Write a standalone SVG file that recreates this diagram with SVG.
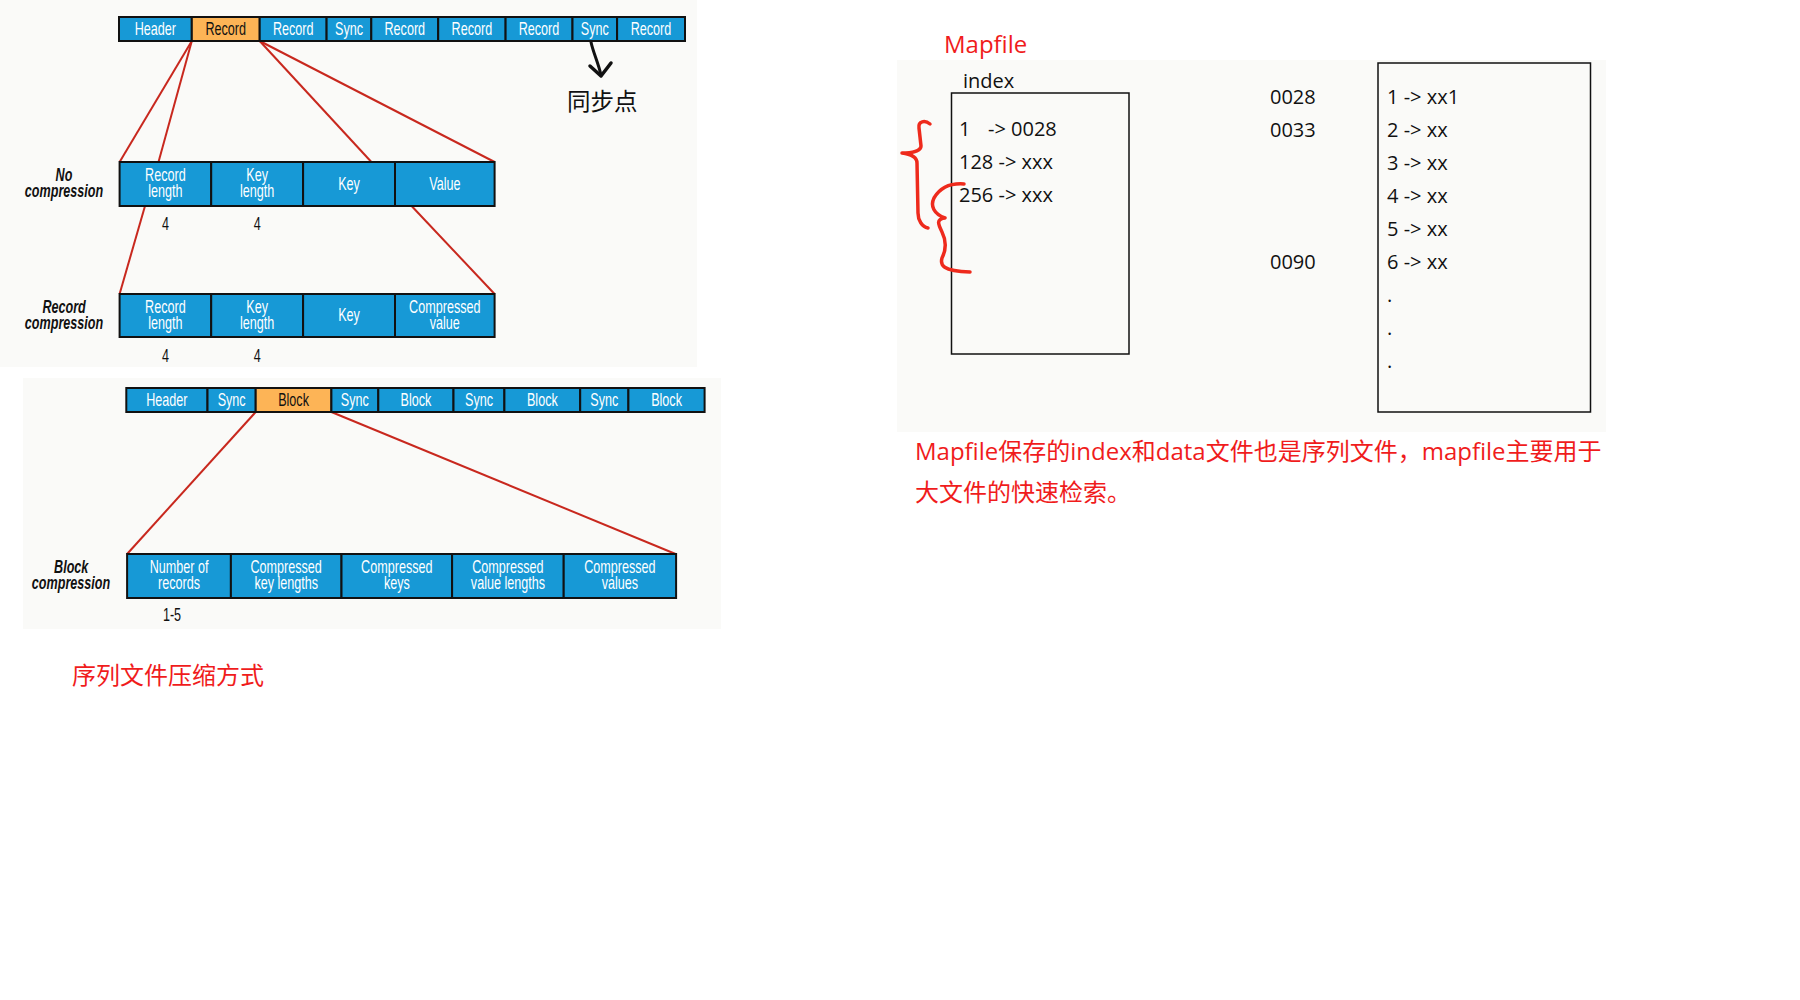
<svg xmlns="http://www.w3.org/2000/svg" width="1800" height="1000" viewBox="0 0 1800 1000">
<style>
.panel{fill:#fafaf8}
.c{fill:#1799d6;stroke:#111;stroke-width:2}
.o{fill:#fdb456;stroke:#111;stroke-width:2}
.t,.lab,.num{font-family:"Liberation Sans",sans-serif;font-size:17.5px;text-anchor:middle;transform-box:fill-box;transform-origin:center;transform:scaleX(0.72)}
.t{fill:#fff}
.tk{fill:#111}
.lab{font-weight:bold;font-style:italic;fill:#111}
.num{fill:#111}
.conn{stroke:#c8281e;stroke-width:2;fill:none}
.m{font-family:"Open Sans","Noto Sans CJK SC",sans-serif;font-size:20px;fill:#111}
.red{font-family:"Open Sans","Noto Sans CJK SC",sans-serif;font-size:24px;fill:#f01c1c}
.cjk{font-family:"Noto Sans CJK SC",sans-serif;font-size:23.5px;fill:#111}
.box{fill:none;stroke:#111;stroke-width:1.5}
.brace{fill:none;stroke:#ee2a1c;stroke-width:3.5;stroke-linecap:round;stroke-linejoin:round}
</style>
<rect width="1800" height="1000" fill="#fff"/>
<rect class="panel" x="0" y="0" width="697" height="367"/>
<rect class="panel" x="23" y="378" width="698" height="251"/>
<rect class="panel" x="897" y="60" width="709" height="372"/>

<g id="connectors">
<line class="conn" x1="191.8" y1="41" x2="119.6" y2="162"/>
<line class="conn" x1="191.8" y1="41" x2="158.5" y2="162"/>
<line class="conn" x1="259.7" y1="41" x2="371.4" y2="162"/>
<line class="conn" x1="259.7" y1="41" x2="494.6" y2="162"/>
<line class="conn" x1="145" y1="206" x2="119.6" y2="294"/>
<line class="conn" x1="411.6" y1="206" x2="494.6" y2="294"/>
<line class="conn" x1="255.7" y1="412" x2="127.1" y2="554"/>
<line class="conn" x1="331.4" y1="412" x2="675.6" y2="554"/>
<path d="M591,42 C593,52 598,62 601,75" fill="none" stroke="#111" stroke-width="3" stroke-linecap="round"/>
<path d="M590,66 L601,76 L611,63" fill="none" stroke="#111" stroke-width="3.5" stroke-linecap="round" stroke-linejoin="round"/>
</g>

<g id="top-bar">
<g id="tb-header"><rect class="c" x="119" y="17" width="72.8" height="24"/><text class="t" x="155.4" y="35">Header</text></g>
<g id="tb-record1"><rect class="o" x="191.8" y="17" width="67.9" height="24"/><text class="t tk" x="225.7" y="35">Record</text></g>
<g id="tb-record2"><rect class="c" x="259.7" y="17" width="66.9" height="24"/><text class="t" x="293.2" y="35">Record</text></g>
<g id="tb-sync1"><rect class="c" x="326.6" y="17" width="44.7" height="24"/><text class="t" x="349" y="35">Sync</text></g>
<g id="tb-record3"><rect class="c" x="371.3" y="17" width="66.9" height="24"/><text class="t" x="404.8" y="35">Record</text></g>
<g id="tb-record4"><rect class="c" x="438.2" y="17" width="67.4" height="24"/><text class="t" x="471.9" y="35">Record</text></g>
<g id="tb-record5"><rect class="c" x="505.6" y="17" width="66.9" height="24"/><text class="t" x="539" y="35">Record</text></g>
<g id="tb-sync2"><rect class="c" x="572.5" y="17" width="44.6" height="24"/><text class="t" x="594.8" y="35">Sync</text></g>
<g id="tb-record6"><rect class="c" x="617.1" y="17" width="67.9" height="24"/><text class="t" x="651" y="35">Record</text></g>
</g>
<text class="cjk" x="567" y="110">同步点</text>

<g id="no-compression">
<text class="lab" x="64" y="181">No</text><text class="lab" x="64" y="197.5">compression</text>
<g id="nc-reclen"><rect class="c" x="119.6" y="162" width="91.6" height="44"/><text class="t" x="165.4" y="181">Record</text><text class="t" x="165.4" y="197">length</text></g>
<g id="nc-keylen"><rect class="c" x="211.2" y="162" width="91.9" height="44"/><text class="t" x="257.1" y="181">Key</text><text class="t" x="257.1" y="197">length</text></g>
<g id="nc-key"><rect class="c" x="303.1" y="162" width="91.9" height="44"/><text class="t" x="349" y="190">Key</text></g>
<g id="nc-value"><rect class="c" x="395" y="162" width="99.6" height="44"/><text class="t" x="444.8" y="190">Value</text></g>
<text class="num" x="165.4" y="230">4</text><text class="num" x="257.1" y="230">4</text>
</g>

<g id="record-compression">
<text class="lab" x="64" y="313">Record</text><text class="lab" x="64" y="329.5">compression</text>
<g id="rc-reclen"><rect class="c" x="119.6" y="294" width="91.6" height="43"/><text class="t" x="165.4" y="313">Record</text><text class="t" x="165.4" y="329">length</text></g>
<g id="rc-keylen"><rect class="c" x="211.2" y="294" width="91.9" height="43"/><text class="t" x="257.1" y="313">Key</text><text class="t" x="257.1" y="329">length</text></g>
<g id="rc-key"><rect class="c" x="303.1" y="294" width="91.9" height="43"/><text class="t" x="349" y="321.5">Key</text></g>
<g id="rc-value"><rect class="c" x="395" y="294" width="99.6" height="43"/><text class="t" x="444.8" y="313">Compressed</text><text class="t" x="444.8" y="329">value</text></g>
<text class="num" x="165.4" y="362">4</text><text class="num" x="257.1" y="362">4</text>
</g>

<g id="bottom-bar">
<g id="bb-header"><rect class="c" x="126.3" y="388" width="81.2" height="24"/><text class="t" x="166.9" y="406">Header</text></g>
<g id="bb-sync1"><rect class="c" x="207.5" y="388" width="48.2" height="24"/><text class="t" x="231.6" y="406">Sync</text></g>
<g id="bb-block1"><rect class="o" x="255.7" y="388" width="75.7" height="24"/><text class="t tk" x="293.5" y="406">Block</text></g>
<g id="bb-sync2"><rect class="c" x="331.4" y="388" width="46.9" height="24"/><text class="t" x="354.8" y="406">Sync</text></g>
<g id="bb-block2"><rect class="c" x="378.3" y="388" width="75.2" height="24"/><text class="t" x="415.9" y="406">Block</text></g>
<g id="bb-sync3"><rect class="c" x="453.5" y="388" width="50.9" height="24"/><text class="t" x="479" y="406">Sync</text></g>
<g id="bb-block3"><rect class="c" x="504.4" y="388" width="75.8" height="24"/><text class="t" x="542.3" y="406">Block</text></g>
<g id="bb-sync4"><rect class="c" x="580.2" y="388" width="48.2" height="24"/><text class="t" x="604.3" y="406">Sync</text></g>
<g id="bb-block4"><rect class="c" x="628.4" y="388" width="76.2" height="24"/><text class="t" x="666.5" y="406">Block</text></g>
</g>

<g id="block-compression">
<text class="lab" x="71" y="573">Block</text><text class="lab" x="71" y="589.5">compression</text>
<g id="bc-num"><rect class="c" x="127.1" y="554" width="103.8" height="44"/><text class="t" x="179" y="573">Number of</text><text class="t" x="179" y="589">records</text></g>
<g id="bc-keylen"><rect class="c" x="230.9" y="554" width="110.6" height="44"/><text class="t" x="286.2" y="573">Compressed</text><text class="t" x="286.2" y="589">key lengths</text></g>
<g id="bc-keys"><rect class="c" x="341.5" y="554" width="110.6" height="44"/><text class="t" x="396.8" y="573">Compressed</text><text class="t" x="396.8" y="589">keys</text></g>
<g id="bc-vallen"><rect class="c" x="452.1" y="554" width="111.6" height="44"/><text class="t" x="507.9" y="573">Compressed</text><text class="t" x="507.9" y="589">value lengths</text></g>
<g id="bc-vals"><rect class="c" x="563.7" y="554" width="112.4" height="44"/><text class="t" x="619.9" y="573">Compressed</text><text class="t" x="619.9" y="589">values</text></g>
<text class="num" x="172" y="621.5">1-5</text>
</g>
<text class="red" x="72" y="684" font-family="Noto Sans CJK SC, sans-serif">序列文件压缩方式</text>

<text class="red" x="944" y="53">Mapfile</text>
<g id="index">
<text class="m" x="963" y="88">index</text>
<rect class="box" x="951.5" y="93" width="177.5" height="261"/>
<text class="m" x="959" y="136">1</text><text class="m" x="988" y="136">-&gt; 0028</text>
<text class="m" x="959" y="169">128 -&gt; xxx</text>
<text class="m" x="959" y="202">256 -&gt; xxx</text>
</g>
<g id="offsets">
<text class="m" x="1270" y="104">0028</text>
<text class="m" x="1270" y="137">0033</text>
<text class="m" x="1270" y="269">0090</text>
</g>
<g id="data">
<rect class="box" x="1378" y="63" width="212.5" height="349"/>
<text class="m" x="1387" y="104">1 -&gt; xx1</text>
<text class="m" x="1387" y="137">2 -&gt; xx</text>
<text class="m" x="1387" y="170">3 -&gt; xx</text>
<text class="m" x="1387" y="203">4 -&gt; xx</text>
<text class="m" x="1387" y="236">5 -&gt; xx</text>
<text class="m" x="1387" y="269">6 -&gt; xx</text>
<text class="m" x="1387" y="302">.</text>
<text class="m" x="1387" y="335">.</text>
<text class="m" x="1387" y="368">.</text>
</g>
<path class="brace" d="M930,124 C925,120 918,121 919,128 L921,146 C921,151 912,153 902,153 C910,154 917,157 917,163 L918,213 C918,220 922,227 928,228"/>
<path class="brace" d="M964,184 C950,183 940,188 934,198 C930,206 934,214 945,218 C936,219 938,224 942,232 C947,242 946,250 942,258 C940,265 942,271 970,272"/>
<text class="red" x="915" y="460">Mapfile保存的index和data文件也是序列文件，mapfile主要用于</text>
<text class="red" x="915" y="501">大文件的快速检索。</text>
</svg>
